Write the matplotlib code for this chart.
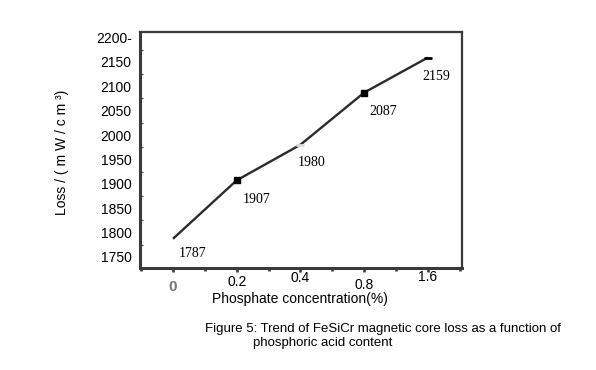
import matplotlib
matplotlib.use("Agg")
import matplotlib.pyplot as plt
from matplotlib.ticker import MultipleLocator, FixedLocator

categories = ["0", "0.2", "0.4", "0.8", "1.6"]
loss = [1787, 1907, 1980, 2087, 2159]
yticks = [1750, 1800, 1850, 1900, 1950, 2000, 2050, 2100, 2150, 2200]
ytick_labels = ["1750", "1800", "1850", "1900", "1950", "2000", "2050", "2100", "2150", "2200-"]

W, H = 596, 370
fig = plt.figure(figsize=(W / 100, H / 100), dpi=100)
ax = fig.add_axes([140 / W, 1 - 268 / H, 322 / W, 236 / H])

idx = list(range(len(categories)))
line_col = "#2b2b2b"
ax.plot(idx, loss, color=line_col, lw=1.7, solid_capstyle="butt", zorder=3)
# markers
ax.plot([idx[1], idx[3]], [loss[1], loss[3]], ls="none", marker="s", ms=4.5,
        color="black", zorder=4)
ax.plot([idx[4]], [loss[4]], ls="none", marker="_", ms=6, mew=2, color="black", zorder=4)
ax.plot([idx[2]], [loss[2]], ls="none", marker="_", ms=6, mew=2, color="#dddddd", zorder=4)

offsets = [(4, -6), (4, -9), (-2, -8), (4, -9), (-4, -9)]
for i, (v, off) in enumerate(zip(loss, offsets)):
    ax.annotate(str(v), (idx[i], v), xytext=off, textcoords="offset points",
                ha="left", va="top", fontsize=10, family="Liberation Serif",
                color="black")

ax.set_xlim(-0.518, 4.537)
ax.set_ylim(1727, 2211.5)

ax.set_yticks(yticks)
ax.set_yticklabels(ytick_labels, fontsize=10, family="Liberation Sans")
ax.yaxis.set_minor_locator(MultipleLocator(25))
ax.set_xticks(idx)
ax.set_xticklabels([""] * len(idx))
ax.xaxis.set_minor_locator(FixedLocator([i + 0.5 for i in range(-1, 5)]))

ax.tick_params(axis="y", which="major", direction="out", length=0, pad=6, colors="#333333",
               labelcolor="black")
ax.tick_params(axis="y", which="minor", direction="in", length=2, width=1, colors="#555555")
ax.tick_params(axis="x", which="major", direction="out", length=3, width=2, colors="#444444")
ax.tick_params(axis="x", which="minor", direction="out", length=2, width=2, colors="#444444")

for s in ax.spines.values():
    s.set_color("#3a3a3a")
    s.set_linewidth(1.6)
ax.spines["left"].set_linewidth(2.2)
ax.spines["bottom"].set_linewidth(2.2)

# x tick labels at staggered heights (as in the reference)
xl_pos = [287, 282, 278, 285, 277]
for i, (lab, ypx) in enumerate(zip(categories, xl_pos)):
    fig.text((173 + i * 63.7) / W, 1 - ypx / H, lab, ha="center", va="center",
             fontsize=10 if i else 11, family="Liberation Sans",
             color="#777777" if i == 0 else "black",
             fontweight="bold" if i == 0 else "normal")

fig.text(300 / W, 1 - 299 / H, "Phosphate concentration(%)", ha="center", va="center",
         fontsize=10, family="Liberation Sans")
fig.text(62 / W, 1 - 152 / H, "Loss / ( m W / c m ³)", ha="center", va="center",
         rotation=90, fontsize=10, family="Liberation Sans")

fig.text(205 / W, 1 - 329 / H,
         "Figure 5: Trend of FeSiCr magnetic core loss as a function of",
         ha="left", va="center", fontsize=9.5, family="Liberation Sans")
fig.text(253 / W, 1 - 343 / H, "phosphoric acid content",
         ha="left", va="center", fontsize=9.5, family="Liberation Sans")

fig.savefig("out.png", dpi=100)
